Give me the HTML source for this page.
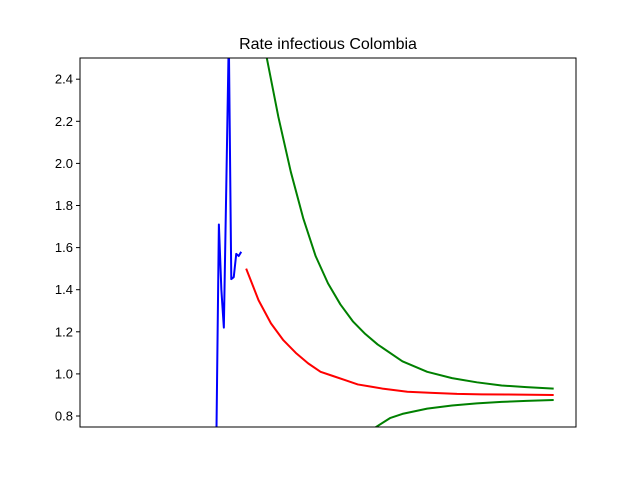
<!DOCTYPE html>
<html><head><meta charset="utf-8"><style>
body{margin:0;background:#fff}
svg{display:block;font-family:"Liberation Sans","DejaVu Sans",sans-serif}
</style></head><body>
<svg id="c" width="640" height="480">
<rect width="640" height="480" fill="#fff"/>
<text x="328" y="49" font-size="16" text-anchor="middle">Rate infectious Colombia</text>
<defs><clipPath id="clip"><rect x="80" y="58" width="496" height="369"/></clipPath></defs>
<g id="ticks"></g>
<g id="series" clip-path="url(#clip)"></g>
<rect x="80" y="58" width="496" height="369" fill="none" stroke="#000" stroke-width="1"/>
</svg>
<script>
const yTicks=[0.8,1.0,1.2,1.4,1.6,1.8,2.0,2.2,2.4];
const blueDays=[55,56,57,58,59,60,61,62,63,64,65];
const blueVals=[0.7,1.71,1.40,1.22,1.9,2.6,1.45,1.46,1.57,1.56,1.58];
const redDays=[67,72,77,82,87,92,97,102,107,112,117,122,132,142,152,162,172,182,191];
const redVals=[1.50,1.35,1.24,1.16,1.10,1.05,1.01,0.99,0.97,0.95,0.94,0.93,0.915,0.91,0.905,0.903,0.902,0.901,0.90];
const upDays=[75,80,85,90,95,100,105,110,115,120,130,140,150,160,170,180,191];
const upVals=[2.52,2.22,1.96,1.74,1.56,1.43,1.33,1.25,1.19,1.14,1.06,1.01,0.98,0.96,0.945,0.937,0.93];
const loDays=[119,125,130,140,150,160,170,180,191];
const loVals=[0.745,0.79,0.81,0.835,0.85,0.86,0.867,0.872,0.876];
const NS="http://www.w3.org/2000/svg";
const xS=d=>80+d*2.48;
const yS=v=>416-(v-0.8)/0.2*42.1;
const tg=document.getElementById('ticks');
yTicks.forEach(t=>{
  const y=yS(t);
  const l=document.createElementNS(NS,'line');
  l.setAttribute('x1',76);l.setAttribute('x2',80);l.setAttribute('y1',y);l.setAttribute('y2',y);l.setAttribute('stroke','#000');
  
  
  tg.appendChild(l);
  const tx=document.createElementNS(NS,'text');
  tx.setAttribute('x',73);tx.setAttribute('y',y+4.5);tx.setAttribute('text-anchor','end');tx.setAttribute('font-size','13');
  tx.textContent=t.toFixed(1);
  
  
  tg.appendChild(tx);
});
const sg=document.getElementById('series');
function line(days,vals,color,name){
  const p=document.createElementNS(NS,'polyline');
  p.setAttribute('points',days.map((d,i)=>xS(d)+','+yS(vals[i])).join(' '));
  p.setAttribute('fill','none');p.setAttribute('stroke',color);p.setAttribute('stroke-width','2');
  p.setAttribute('stroke-linejoin','round');
  
  
  sg.appendChild(p);
}
line(blueDays,blueVals,'#0000ff','observed-rate-line');
line(redDays,redVals,'#ff0000','forecast-rate-line');
line(upDays,upVals,'#008000','upper-bound-line');
line(loDays,loVals,'#008000','lower-bound-line');
</script>
</body></html>
